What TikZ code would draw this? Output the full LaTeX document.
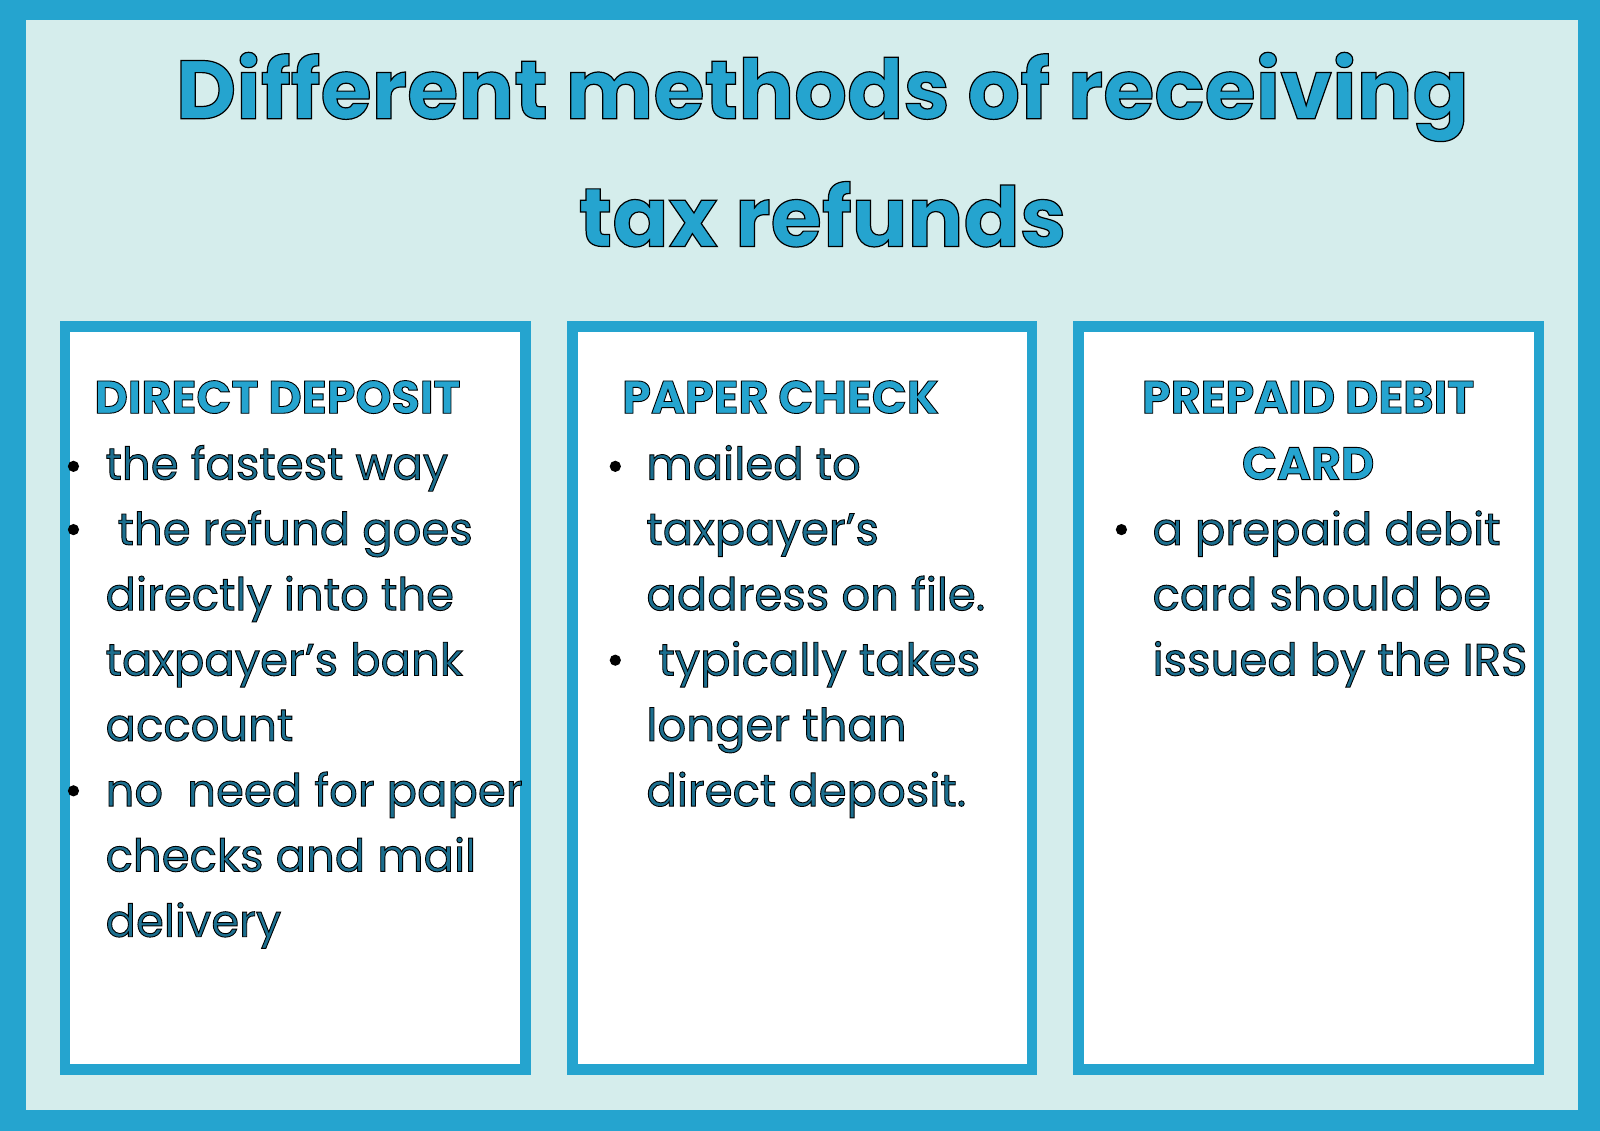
\documentclass[tikz,border=0pt]{standalone}
\usepackage{fontspec}
\setmainfont{Poppins}
\newfontface\popb{Poppins Bold}
\definecolor{frame}{HTML}{25A4CF}
\definecolor{bgc}{HTML}{D5EDEC}
\definecolor{bodyc}{HTML}{1C6F8F}
\newcommand{\outl}[1]{\special{pdf:literal direct 2 Tr 1.2 w 0 0 0 RG}#1\special{pdf:literal direct 0 Tr}}
\newcommand{\outs}[1]{\special{pdf:literal direct 2 Tr 0.9 w 0 0 0 RG}#1\special{pdf:literal direct 0 Tr}}
\newcommand{\apo}{{\char"0027}}
\tikzset{
 card/.style={draw=frame,line width=10.2pt,fill=white},
 ttl/.style={text=frame,font=\popb\fontsize{83}{90}\selectfont},
 hd/.style={text=frame,font=\popb\fontsize{46}{50}\selectfont,anchor=base},
 bl/.style={text=bodyc,font=\fontsize{45}{50}\selectfont,anchor=base west}
}
\begin{document}
\begin{tikzpicture}[x=1.0204pt,y=-1.0204pt]
\useasboundingbox (0,0) rectangle (1568,1108);
\fill[frame] (0,0) rectangle (1568,1108);
\fill[bgc] (25,20) rectangle (1546,1088);
\node[ttl] (t1) at (806,95) {\outl{Different methods of receiving}};
\node[ttl] (t2) at (806,210) {\outl{tax refunds}};
\draw[card] (64,320) rectangle (515,1048);
\draw[card] (561,320) rectangle (1011,1048);
\draw[card] (1057,320) rectangle (1508,1048);
% box 1
\node[hd] (h1) at (272,405) {\outs{DIRECT DEPOSIT}};
\foreach \y/\t [count=\i] in {470/the fastest way,534/\ the refund goes,598/directly into the,662/taxpayer\apo s bank,726/account,790/no\ \ need for paper,854/checks and mail,918/delivery}
  \node[bl] (a\i) at (100,\y) {\outs{\t}};
\foreach \y in {457,519,775} \fill[black] (72,\y) circle (5.5);
% box 2
\node[hd] (h2) at (765,405) {\outs{PAPER CHECK}};
\foreach \y/\t [count=\i] in {470/mailed to,534/taxpayer\apo s,598/address on file.,662/\ typically takes,726/longer than,790/direct deposit.}
  \node[bl] (b\i) at (630,\y) {\outs{\t}};
\foreach \y in {457,647} \fill[black] (603,\y) circle (5.5);
% box 3
\node[hd] (h3) at (1282,405) {\outs{PREPAID DEBIT}};
\node[hd] (h4) at (1282,470) {\outs{CARD}};
\foreach \y/\t [count=\i] in {534/a prepaid debit,598/card should be,662/issued by the IRS}
  \node[bl] (p\i) at (1126,\y) {\outs{\t}};
\fill[black] (1099,519) circle (5.5);
\end{tikzpicture}
\end{document}
